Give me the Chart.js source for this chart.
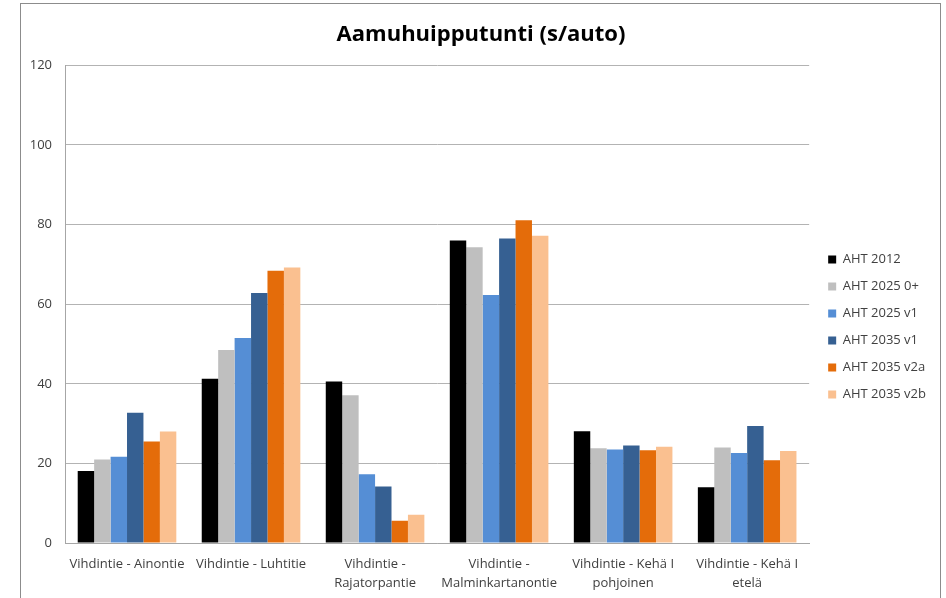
<!DOCTYPE html>
<html lang="fi">
<head>
<meta charset="utf-8">
<title>Aamuhuipputunti (s/auto)</title>
<script src="https://cdn.jsdelivr.net/npm/chart.js@4.4.1/dist/chart.umd.min.js"></script>
<style>
    html, body { margin: 0; padding: 0; background: #fff; overflow: hidden; }
    #frame {
        position: absolute; left: 20px; top: 3px;
        width: 919px; height: 700px;
        border: 1px solid #8c8c8c;
    }
    #wrap {
        position: absolute; left: 21px; top: 4px;
        width: 918px; height: 594px;
    }
</style>
</head>
<body>
<div id="frame"></div>
<div id="wrap"><canvas id="peakChart"></canvas></div>
<script>
// Kohteet (x-akseli)
const categories = [
    'Vihdintie - Ainontie',
    'Vihdintie - Luhtitie',
    ['Vihdintie -', 'Rajatorpantie'],
    ['Vihdintie -', 'Malminkartanontie'],
    ['Vihdintie - Kehä I', 'pohjoinen'],
    ['Vihdintie - Kehä I', 'etelä']
];

// Sarjat (s/auto)
const aht2012   = [18.1, 41.3, 40.6, 76.0, 28.1, 14.0];
const aht2025_0 = [21.0, 48.5, 37.1, 74.3, 23.8, 24.0];
const aht2025v1 = [21.7, 51.5, 17.3, 62.3, 23.5, 22.6];
const aht2035v1 = [32.7, 62.8, 14.2, 76.5, 24.5, 29.4];
const aht2035v2a = [25.5, 68.4, 5.6, 81.1, 23.3, 20.8];
const aht2035v2b = [28.0, 69.2, 7.1, 77.2, 24.2, 23.1];

const yTicks = [0, 20, 40, 60, 80, 100, 120];

const FONT = '"Open Sans", "Noto Sans", sans-serif';
Chart.defaults.font.family = FONT;
Chart.defaults.color = '#404040';

const makeSet = (label, data, color) => ({
    label: label,
    data: data,
    backgroundColor: color,
    borderWidth: 0
});

// Siirtää selitettä hieman oikealle ja alas piirtoalueen viereen
const legendOffset = {
    id: 'legendOffset',
    afterLayout(chart, args, opts) {
        const lg = chart.legend;
        if (!lg) return;
        lg.left += opts.x;
        lg.right += opts.x;
        lg.top += opts.y;
        lg.bottom += opts.y;
    }
};

const ctx = document.getElementById('peakChart');

const peakChart = new Chart(ctx, {
    type: 'bar',
    data: {
        labels: categories,
        datasets: [
            makeSet('AHT 2012', aht2012, '#000000'),
            makeSet('AHT 2025 0+', aht2025_0, '#bfbfbf'),
            makeSet('AHT 2025 v1', aht2025v1, '#558ed5'),
            makeSet('AHT 2035 v1', aht2035v1, '#366092'),
            makeSet('AHT 2035 v2a', aht2035v2a, '#e46c0a'),
            makeSet('AHT 2035 v2b', aht2035v2b, '#fac090')
        ]
    },
    plugins: [legendOffset],
    options: {
        responsive: true,
        maintainAspectRatio: false,
        animation: false,
        datasets: {
            bar: { barPercentage: 1, categoryPercentage: 0.795 }
        },
        layout: {
            padding: { left: 10, right: 8, top: 0, bottom: 0 }
        },
        scales: {
            x: {
                grid: { display: false, drawTicks: false },
                border: { display: true, color: '#a6a6a6', width: 1 },
                afterFit: (axis) => {
                    axis.height = 55;
                },
                ticks: {
                    color: '#404040',
                    font: { size: 13, lineHeight: 1.45 },
                    padding: 12,
                    maxRotation: 0,
                    autoSkip: false
                }
            },
            y: {
                min: 0,
                max: 120,
                afterBuildTicks: (axis) => {
                    axis.ticks = yTicks.map(v => ({ value: v }));
                },
                afterFit: (axis) => {
                    axis.width = 34;
                },
                grid: { color: '#b3b3b3', lineWidth: 1, drawTicks: false },
                border: { display: true, color: '#a6a6a6', width: 1 },
                ticks: {
                    color: '#404040',
                    font: { size: 13 },
                    padding: 13
                }
            }
        },
        plugins: {
            title: {
                display: true,
                text: 'Aamuhuipputunti (s/auto)',
                color: '#000000',
                font: { size: 22, weight: 'bold' },
                padding: { top: 18, bottom: 17 }
            },
            legend: {
                position: 'right',
                labels: {
                    color: '#404040',
                    font: { size: 13 },
                    boxWidth: 8,
                    boxHeight: 8,
                    padding: 14
                }
            },
            legendOffset: { x: 5, y: 26 },
            tooltip: { enabled: false }
        }
    }
});
</script>
</body>
</html>
